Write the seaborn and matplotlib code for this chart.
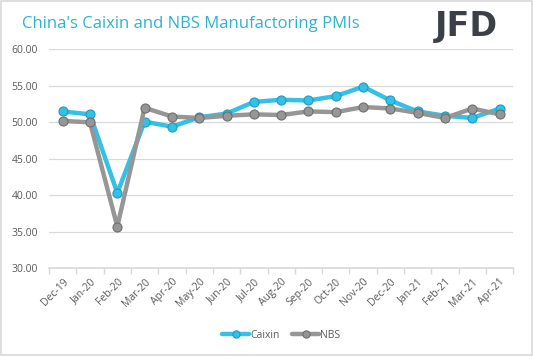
import numpy as np
import pandas as pd
import seaborn as sns
import matplotlib.pyplot as plt
from matplotlib.patches import Rectangle

# Dados
months = ["Dec-19", "Jan-20", "Feb-20", "Mar-20", "Apr-20", "May-20", "Jun-20", "Jul-20",
          "Aug-20", "Sep-20", "Oct-20", "Nov-20", "Dec-20", "Jan-21", "Feb-21", "Mar-21", "Apr-21"]
caixin = [51.5, 51.1, 40.3, 50.1, 49.4, 50.7, 51.2, 52.8, 53.1, 53.0, 53.6, 54.9, 53.0, 51.5, 50.9, 50.6, 51.9]
nbs = [50.2, 50.0, 35.7, 52.0, 50.8, 50.6, 50.9, 51.1, 51.0, 51.5, 51.4, 52.1, 51.9, 51.3, 50.6, 51.9, 51.1]

pos = np.arange(len(months))

sns.set_theme(style="white")
plt.rcParams["font.family"] = ["Open Sans", "DejaVu Sans"]

fig = plt.figure(figsize=(5.33, 3.56), dpi=100)
ax = fig.add_axes([0.092, 0.247, 0.871, 0.614])

sns.lineplot(x=pos, y=caixin, color="#35c0e6", lw=3.2, marker="o", markersize=6.5,
             markeredgecolor="#1a9cc4", markeredgewidth=0.8, label="Caixin", ax=ax)
sns.lineplot(x=pos, y=nbs, color="#969696", lw=3.2, marker="o", markersize=6.5,
             markeredgecolor="#6e6e6e", markeredgewidth=0.8, label="NBS", ax=ax)

# Eixos
ax.set_xlim(-0.5, len(months) - 0.5)
ax.set_ylim(30, 60)
ax.set_yticks(np.arange(30, 61, 5))
ax.set_yticklabels([f"{v:.2f}" for v in np.arange(30, 61, 5)])
ax.set_xticks(pos)
ax.set_xticklabels(months, rotation=45, ha="right", rotation_mode="anchor")
ax.set_xticks(np.arange(-0.5, len(months), 1), minor=True)
ax.tick_params(axis="x", which="major", length=0, labelsize=7.5, labelcolor="#595959", pad=6)
ax.tick_params(axis="x", which="minor", length=4, color="#d9d9d9", bottom=True)
ax.tick_params(axis="y", length=0, labelsize=7.5, labelcolor="#595959", pad=8)
ax.grid(axis="y", color="#d9d9d9", lw=0.9)
ax.set_axisbelow(True)
for s in ["top", "right", "left"]:
    ax.spines[s].set_visible(False)
ax.spines["bottom"].set_color("#d9d9d9")
ax.set_xlabel("")
ax.set_ylabel("")

# Legenda
ax.legend(loc="upper center", bbox_to_anchor=(0.5, -0.24), ncol=2, frameon=False,
          fontsize=7.5, handlelength=2.6, columnspacing=1.2, handletextpad=0.1,
          labelcolor="#595959", markerscale=0.8)

# Título e logo
fig.text(0.041, 0.932, "China's Caixin and NBS Manufactoring PMIs", color="#2eb3cf",
         fontsize=12, va="center", ha="left")
fig.text(0.875, 0.925, "JFD", color="#3b4046", fontsize=24, fontweight="bold",
         va="center", ha="center", family="DejaVu Sans")

# Borda da figura
fig.patches.append(Rectangle((0.002, 0.003), 0.996, 0.994, transform=fig.transFigure,
                             fill=False, edgecolor="#d9d9d9", lw=1.2))

fig.savefig("out.png", dpi=100)
